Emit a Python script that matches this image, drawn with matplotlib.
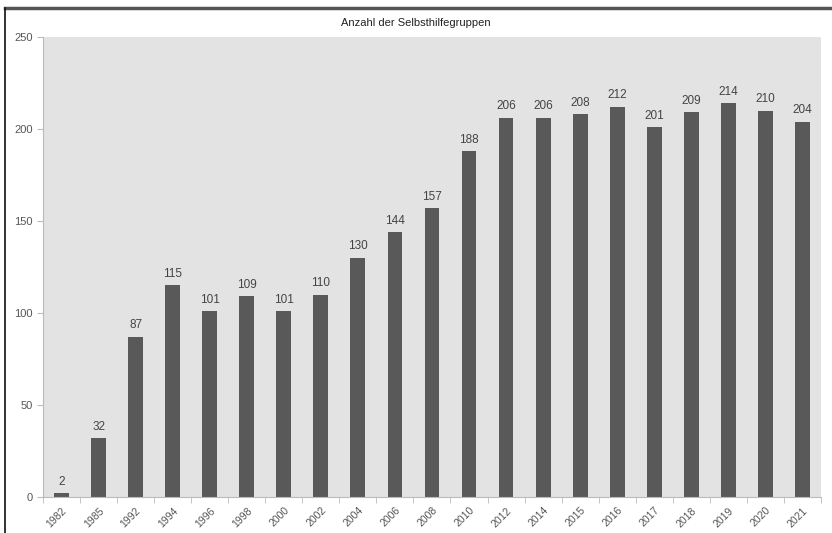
import matplotlib.pyplot as plt
from matplotlib.lines import Line2D

# Anzahl der Selbsthilfegruppen pro Jahr
years = ['1982', '1985', '1992', '1994', '1996', '1998', '2000', '2002', '2004', '2006',
         '2008', '2010', '2012', '2014', '2015', '2016', '2017', '2018', '2019', '2020', '2021']
groups = [2, 32, 87, 115, 101, 109, 101, 110, 130, 144,
          157, 188, 206, 206, 208, 212, 201, 209, 214, 210, 204]

plt.rcParams['font.family'] = ['Liberation Sans Narrow', 'Liberation Sans', 'DejaVu Sans']

fig = plt.figure(figsize=(8.32, 5.33), dpi=100)
ax = fig.add_axes([0.0517, 0.0675, 0.935, 0.863])
ax.set_facecolor('#e3e3e3')

pos = list(range(len(years)))
bars = ax.bar(pos, groups, width=0.4, color='#595959', zorder=2)
for x, v in zip(pos, groups):
    ax.annotate(str(v), (x, v), xytext=(0, 4), textcoords='offset points',
                ha='center', va='bottom', fontsize=8.5, color='#444444')

ax.set_xlim(-0.5, len(years) - 0.5)
ax.set_ylim(0, 250)
ax.set_yticks(range(0, 251, 50))
ax.tick_params(axis='y', labelsize=8, colors='#bbbbbb', labelcolor='#555555', length=4)

# labels at the bars, tick marks between categories
ax.set_xticks(pos)
ax.set_xticklabels(years, rotation=45, ha='right', rotation_mode='anchor',
                   fontsize=7.5, color='#555555')
ax.tick_params(axis='x', length=0, pad=6)
ax.set_xticks([p - 0.5 for p in pos] + [len(years) - 0.5], minor=True)
ax.tick_params(axis='x', which='minor', length=4, colors='#bbbbbb')

for side in ['top', 'right']:
    ax.spines[side].set_visible(False)
for side in ['left', 'bottom']:
    ax.spines[side].set_color('#bbbbbb')

fig.text(0.5, 0.957, 'Anzahl der Selbsthilfegruppen', ha='center', va='center',
         fontsize=8, color='#222222')

# frame lines of the original screenshot
fig.add_artist(Line2D([0.006, 1.0], [0.985, 0.985], color='#555555', lw=2.5))
fig.add_artist(Line2D([0.006, 0.006], [0.0, 0.985], color='#111111', lw=1.2))

fig.savefig('out.png', dpi=100)
